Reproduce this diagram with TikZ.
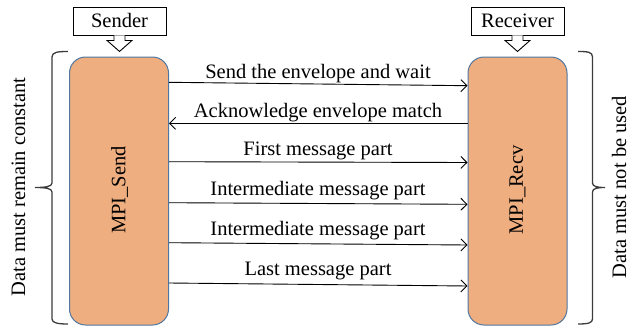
\documentclass[tikz,border=0pt]{standalone}
\usepackage{fontspec}
\setmainfont{Liberation Serif}
\usetikzlibrary{arrows.meta,calc}
\definecolor{boxfill}{RGB}{238,174,128}
\definecolor{boxline}{RGB}{80,118,160}
\definecolor{bracecol}{RGB}{60,60,60}
\tikzset{
  lbl/.style={font=\fontsize{20.5}{24}\selectfont, inner sep=0pt},
  rolebox/.style={draw=black, line width=0.9pt, fill=white, minimum width=93pt, minimum height=28pt, inner sep=0pt, font=\fontsize{20.5}{24}\selectfont},
  procbox/.style={draw=boxline, line width=1pt, fill=boxfill, rounded corners=16pt, minimum width=99pt, minimum height=268pt, inner sep=0pt},
  msg/.style={draw=black, line width=0.9pt, -{Straight Barb[length=6pt,width=12pt,line width=0.9pt]}},
  hollow/.style={draw=black, line width=0.9pt, fill=white, line join=miter},
  brace/.style={draw=bracecol, line width=1.3pt}
}
\begin{document}
\begin{tikzpicture}[x=1pt,y=-1pt]
\useasboundingbox (0,0) rectangle (630,330);
% role boxes
\node[rolebox] (snd) at (119.5,21) {};
\node[lbl, anchor=base] (sndt) at (119.5,27.5) {Sender};
\node[rolebox] (rcv) at (517.5,21) {};
\node[lbl, anchor=base] (rcvt) at (517.5,27.5) {Receiver};
% hollow arrows
\draw[hollow] ($(snd.south)+(-5.5,0)$) -- ++(0,5) -- ++(-7,0) -- ($(snd.south)+(0,16)$) -- ($(snd.south)+(12.5,5)$) -- ++(-7,0) -- ++(0,-5);
\draw[hollow] ($(rcv.south)+(-5.5,0)$) -- ++(0,5) -- ++(-7,0) -- ($(rcv.south)+(0,16)$) -- ($(rcv.south)+(12.5,5)$) -- ++(-7,0) -- ++(0,-5);
% process boxes
\node[procbox] (ls) at (119,191) {};
\node[procbox] (rs) at (517.5,191) {};
\node[lbl, rotate=90] (lst) at (119.5,190) {MPI\_Send};
\node[lbl, rotate=90] (rst) at (517.5,190) {MPI\_Recv};
% messages
\draw[msg] (ls.east |- 0,82.3) -- (rs.west |- 0,85.7);
\node[lbl, anchor=base] (m1) at (318,78.3) {Send the envelope and wait};
\draw[msg] (rs.west |- 0,123.3) -- (ls.east |- 0,123.3);
\node[lbl, anchor=base] (m2) at (318,117.7) {Acknowledge envelope match};
\draw[msg] (ls.east |- 0,161.7) -- (rs.west |- 0,162.5);
\node[lbl, anchor=base] (m3) at (318,155.5) {First message part};
\draw[msg] (ls.east |- 0,202.7) -- (rs.west |- 0,204.3);
\node[lbl, anchor=base] (m4) at (318,195.5) {Intermediate message part};
\draw[msg] (ls.east |- 0,242.7) -- (rs.west |- 0,245);
\node[lbl, anchor=base] (m5) at (318,235.5) {Intermediate message part};
\draw[msg] (ls.east |- 0,283) -- (rs.west |- 0,286);
\node[lbl, anchor=base] (m6) at (318,275.5) {Last message part};
% braces
\draw[brace] (68,51.5) .. controls (58,51.5) and (52,52) .. (52,57) -- (52,183) .. controls (52,186.5) and (46,187.5) .. (35,187.5)
  (35,187.5) .. controls (46,187.5) and (52,188.5) .. (52,192) -- (52,319) .. controls (52,323) and (58,324) .. (68,324);
\draw[brace] (578,51.5) .. controls (588,51.5) and (592.5,52) .. (592.5,57) -- (592.5,183) .. controls (592.5,186.5) and (597,187.5) .. (605,187.5)
  (605,187.5) .. controls (597,187.5) and (592.5,188.5) .. (592.5,192) -- (592.5,319) .. controls (592.5,323) and (588,324) .. (578,324);
% side texts
\node[lbl, rotate=90, anchor=south] (lt) at (25.5,187) {Data must remain constant};
\node[lbl, rotate=90, anchor=south] (rt) at (626.5,187) {Data must not be used};
\end{tikzpicture}
\end{document}
